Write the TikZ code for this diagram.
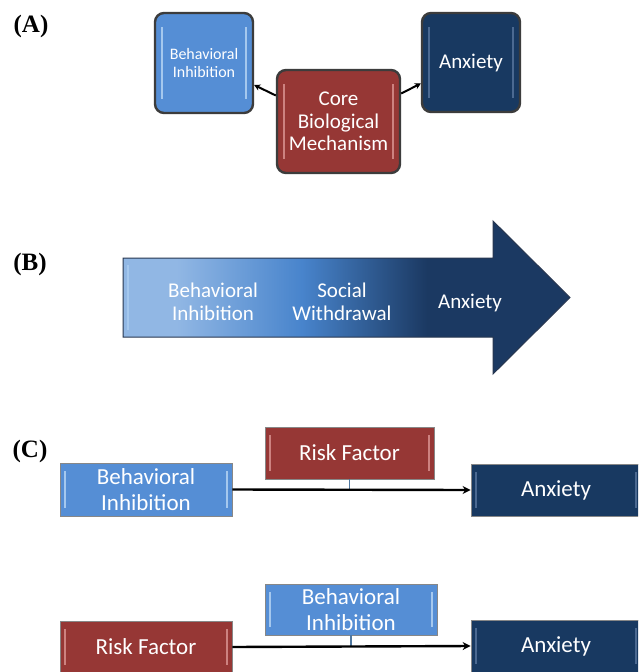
\documentclass[tikz,border=0pt]{standalone}
\usepackage{fontspec}
\setmainfont{Carlito}
\newfontfamily\labfont{Liberation Serif}
\usetikzlibrary{arrows.meta}
\definecolor{boxblue}{RGB}{85,142,213}
\definecolor{boxred}{RGB}{150,55,53}
\definecolor{boxnavy}{RGB}{24,57,97}
\definecolor{stripblue}{RGB}{165,200,238}
\definecolor{stripred}{RGB}{205,130,128}
\definecolor{stripnavy}{RGB}{75,105,145}
\definecolor{boxedge}{RGB}{60,60,60}
\definecolor{cedge}{RGB}{135,135,135}
\definecolor{arrL}{RGB}{145,183,228}
\definecolor{arrM}{RGB}{72,132,204}
\definecolor{arrD}{RGB}{27,57,98}
\definecolor{arrEdge}{RGB}{40,55,80}
\definecolor{stemcol}{RGB}{80,120,160}
\pgfdeclarehorizontalshading{bigarrow}{100bp}{color(0bp)=(arrL); color(25bp)=(arrL); color(31bp)=(arrL); color(45bp)=(arrM); color(59bp)=(arrD); color(100bp)=(arrD)}
\tikzset{
  lab/.style={font=\labfont\bfseries\fontsize{25}{25}\selectfont, inner sep=0pt},
  bevA/.style={path picture={
    \draw[#1, line width=1.6pt] ([xshift=7pt,yshift=-14pt]path picture bounding box.north west) -- ([xshift=7pt,yshift=14pt]path picture bounding box.south west);
    \draw[#1, line width=1.6pt] ([xshift=-7pt,yshift=-14pt]path picture bounding box.north east) -- ([xshift=-7pt,yshift=14pt]path picture bounding box.south east);}},
  bevC/.style={path picture={
    \draw[#1, line width=1.6pt] ([xshift=5pt,yshift=-8pt]path picture bounding box.north west) -- ([xshift=5pt,yshift=8pt]path picture bounding box.south west);
    \draw[#1, line width=1.6pt] ([xshift=-5pt,yshift=-8pt]path picture bounding box.north east) -- ([xshift=-5pt,yshift=8pt]path picture bounding box.south east);}},
  abox/.style={draw=boxedge, line width=2.4pt, rounded corners=9pt, text=white, align=center, inner sep=0pt},
  cbox/.style={draw=cedge, line width=0.8pt, text=white, align=center, inner sep=0pt, font=\fontsize{23}{26}\selectfont},
  btxt/.style={text=white, align=center, inner sep=0pt, font=\fontsize{21}{22.5}\selectfont},
  aarrow/.style={line width=2pt, -{Stealth[length=6pt,width=6.5pt]}},
  carrow/.style={line width=2.4pt, -{Stealth[length=8pt,width=8pt]}},
  stem/.style={draw=stemcol, line width=1.6pt}
}
\begin{document}
\begin{tikzpicture}[x=1pt,y=-1pt]
\useasboundingbox (0,0) rectangle (638,672);
\clip (0,0) rectangle (638,672);
\fill[white] (0,0) rectangle (638,672);

% labels
\node[lab] (labA) at (31,26) {(A)};
\node[lab] (labB) at (30,264) {(B)};
\node[lab] (labC) at (30,451) {(C)};

% (A)
\node[abox, fill=boxblue, bevA=stripblue, minimum width=98pt, minimum height=100pt, font=\fontsize{16}{18}\selectfont] (biA) at (204,63) {Behavioral\\Inhibition};
\node[abox, fill=boxred, bevA=stripred, minimum width=123pt, minimum height=103pt, font=\fontsize{21}{22.5}\selectfont] (coreA) at (338.5,121.5) {Core\\Biological\\Mechanism};
\node[abox, fill=boxnavy, bevA=stripnavy, minimum width=98pt, minimum height=99pt, font=\fontsize{21}{22}\selectfont] (anxA) at (471,62.5) {Anxiety};
\draw[aarrow] ([yshift=26pt]coreA.west) -- ([yshift=-22pt]biA.east);
\draw[aarrow] ([yshift=28pt]coreA.east) -- ([yshift=-21pt]anxA.west);

% (B)
\shadedraw[shading=bigarrow, draw=arrEdge, line width=1pt] (123,258) -- (493,258) -- (493,221) -- (570,297.5) -- (493,374) -- (493,337) -- (123,337) -- cycle;
\draw[stripblue, line width=2pt] (128,265) -- (128,330);
\node[btxt] (bB) at (213,302) {Behavioral\\Inhibition};
\node[btxt] (sB) at (342,302) {Social\\Withdrawal};
\node[btxt] (aB) at (470,303) {Anxiety};

% (C) first model
\node[cbox, fill=boxblue, bevC=stripblue, minimum width=172pt, minimum height=53pt] (biC) at (146,489.5) {Behavioral\\Inhibition};
\node[cbox, fill=boxred, bevC=stripred, minimum width=169pt, minimum height=52pt] (rfC) at (349.5,453) {Risk Factor};
\node[cbox, fill=boxnavy, bevC=stripnavy, minimum width=170pt, minimum height=52pt] (anxC) at (556,490) {Anxiety};
\draw[stem] (rfC.south) -- (rfC.south |- biC.east);
\draw[carrow] (biC.east) -- (anxC.west);

% (C) second model
\node[cbox, fill=boxred, bevC=stripred, minimum width=172pt, minimum height=52pt] (rfD) at (146,647) {Risk Factor};
\node[cbox, fill=boxblue, bevC=stripblue, minimum width=172pt, minimum height=51pt] (biD) at (351,609.5) {Behavioral\\Inhibition};
\node[cbox, fill=boxnavy, bevC=stripnavy, minimum width=170pt, minimum height=52pt] (anxD) at (556,646) {Anxiety};
\draw[stem] (biD.south) -- (biD.south |- rfD.east);
\draw[carrow] (rfD.east) -- (anxD.west);
\end{tikzpicture}
\end{document}
